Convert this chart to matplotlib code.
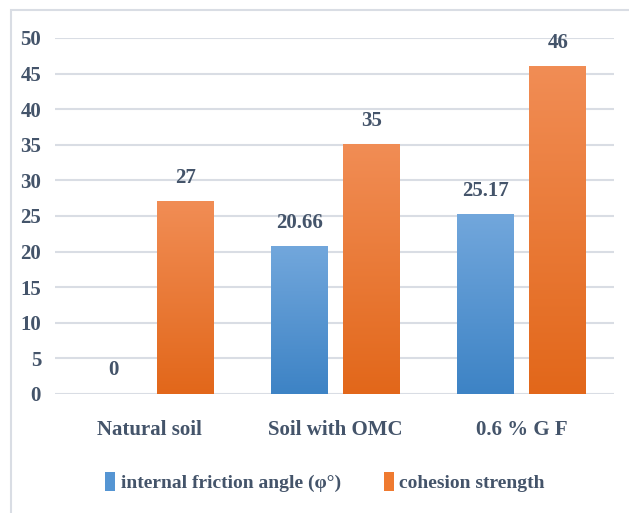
import numpy as np
import matplotlib
matplotlib.use("Agg")
import matplotlib.pyplot as plt
from matplotlib.patches import Patch, Rectangle
from matplotlib.colors import LinearSegmentedColormap

categories = ["Natural soil", "Soil with OMC", "0.6 % G F"]
friction_angle = [0, 20.66, 25.17]
cohesion = [27, 35, 46]
series_names = ["internal friction angle (\u03c6\u00b0)", "cohesion strength"]
y_ticks = [0, 5, 10, 15, 20, 25, 30, 35, 40, 45, 50]

text_color = "#44546a"
grid_color = "#d9dde4"
blue_top, blue_bot = "#72a7dc", "#3d83c5"
orange_top, orange_bot = "#f18d55", "#e2671a"

plt.rcParams['font.family'] = ['Liberation Serif', 'DejaVu Serif']
plt.rcParams['font.weight'] = 'bold'

fig = plt.figure(figsize=(6.29, 5.13), dpi=100)
ax = fig.add_axes([0.0874, 0.232, 0.889, 0.694])

x = np.arange(len(categories))
w = 0.306
off = 0.194

b1 = ax.bar(x - off, friction_angle, w, color='none', zorder=2)
b2 = ax.bar(x + off, cohesion, w, color='none', zorder=2)

def grad_fill(bars, c_top, c_bot):
    cmap = LinearSegmentedColormap.from_list("g", [c_bot, c_top])
    grad = np.linspace(0, 1, 256).reshape(-1, 1)
    for p in bars:
        h = p.get_height()
        if h <= 0:
            continue
        x0 = p.get_x()
        ax.imshow(grad, cmap=cmap, origin='lower', aspect='auto',
                  extent=[x0, x0 + p.get_width(), 0, h], zorder=2,
                  interpolation='bilinear')

grad_fill(b1, blue_top, blue_bot)
grad_fill(b2, orange_top, orange_bot)

ax.set_xlim(-0.508, 2.497)
ax.set_ylim(0, 50)
ax.set_aspect('auto')

for bars, vals in ((b1, friction_angle), (b2, cohesion)):
    ax.bar_label(bars, labels=[f"{v:g}" for v in vals], padding=10,
                 fontsize=15, fontweight='bold', color=text_color)

ax.set_yticks(y_ticks)
ax.set_xticks(x)
ax.set_xticklabels(categories)
ax.tick_params(axis='both', length=0, labelsize=15, colors=text_color)
ax.tick_params(axis='y', pad=10)
ax.tick_params(axis='x', pad=19)
ax.yaxis.grid(True, color=grid_color, linewidth=1.5, zorder=0)
ax.set_axisbelow(True)
for s in ax.spines.values():
    s.set_visible(False)

handles = [Patch(facecolor="#5595d3", edgecolor='none'),
           Patch(facecolor="#ef7a30", edgecolor='none')]
fig.legend(handles, series_names, loc='center', bbox_to_anchor=(0.517, 0.060),
           ncol=2, frameon=False, fontsize=14, handlelength=0.5,
           handleheight=1.1, handletextpad=0.3, columnspacing=2.2,
           labelcolor=text_color)

fig.patches.append(Rectangle((11 / 629, -0.2), 1.5, 0.2 + 1 - 10 / 513,
                             transform=fig.transFigure, fill=False,
                             edgecolor="#d9dde4", linewidth=1.5))

fig.savefig("out.png", dpi=100)
